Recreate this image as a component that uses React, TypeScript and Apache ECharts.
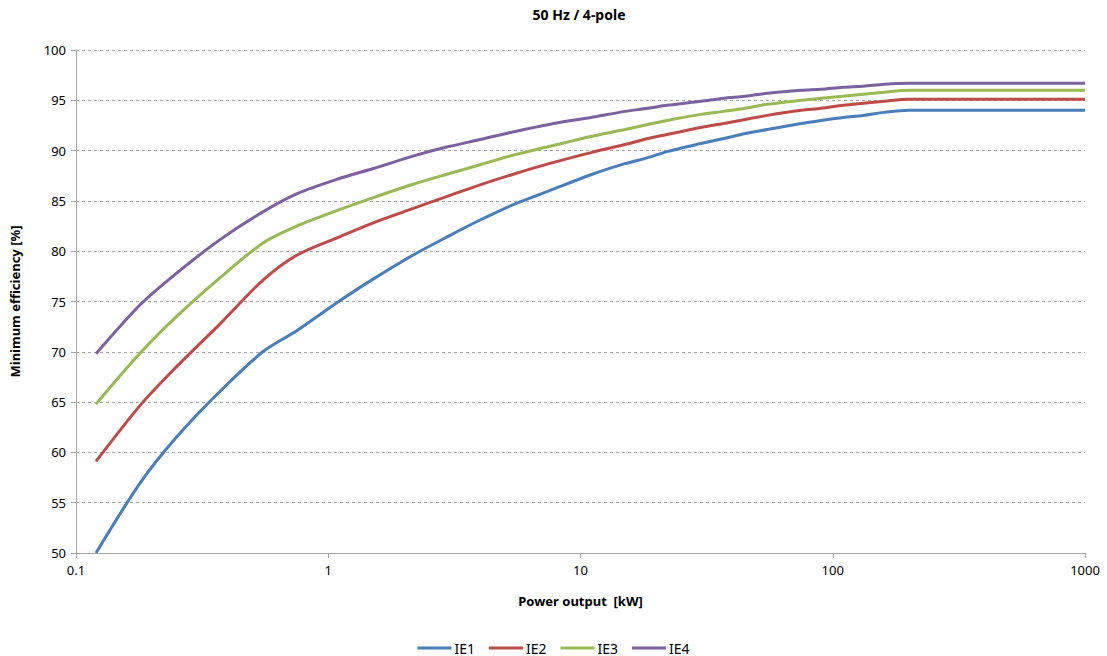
import React, { useEffect, useRef } from "react";
import * as echarts from "echarts";

const powers = [0.12, 0.18, 0.25, 0.37, 0.55, 0.75, 1.1, 1.5, 2.2, 3, 4, 5.5, 7.5, 11, 15, 18.5, 22, 30, 37, 45, 55, 75, 90, 110, 132, 160, 200, 250, 315, 355, 400, 450, 500, 1000];
const ie1 = [50.0, 57.0, 61.5, 66.0, 70.0, 72.1, 75.0, 77.2, 79.7, 81.5, 83.1, 84.7, 86.0, 87.6, 88.7, 89.3, 89.9, 90.7, 91.2, 91.7, 92.1, 92.7, 93.0, 93.3, 93.5, 93.8, 94.0, 94.0, 94.0, 94.0, 94.0, 94.0, 94.0, 94.0];
const ie2 = [59.1, 64.7, 68.5, 72.7, 77.1, 79.6, 81.4, 82.8, 84.3, 85.5, 86.6, 87.7, 88.7, 89.8, 90.6, 91.2, 91.6, 92.3, 92.7, 93.1, 93.5, 94.0, 94.2, 94.5, 94.7, 94.9, 95.1, 95.1, 95.1, 95.1, 95.1, 95.1, 95.1, 95.1];
const ie3 = [64.8, 69.9, 73.5, 77.3, 80.8, 82.5, 84.1, 85.3, 86.7, 87.7, 88.6, 89.6, 90.4, 91.4, 92.1, 92.6, 93.0, 93.6, 93.9, 94.2, 94.6, 95.0, 95.2, 95.4, 95.6, 95.8, 96.0, 96.0, 96.0, 96.0, 96.0, 96.0, 96.0, 96.0];
const ie4 = [69.8, 74.7, 77.8, 81.1, 83.9, 85.7, 87.2, 88.2, 89.5, 90.4, 91.1, 91.9, 92.6, 93.3, 93.9, 94.2, 94.5, 94.9, 95.2, 95.4, 95.7, 96.0, 96.1, 96.3, 96.4, 96.6, 96.7, 96.7, 96.7, 96.7, 96.7, 96.7, 96.7, 96.7];
const seriesNames = ["IE1", "IE2", "IE3", "IE4"];
const seriesValues = [ie1, ie2, ie3, ie4];
const colors = ["#4a7ebb", "#be4b48", "#98b954", "#7d60a0"];

const FONT = "'Noto Sans', 'Liberation Sans', sans-serif";

export default function App() {
  const ref = useRef<HTMLDivElement>(null);
  useEffect(() => {
    document.body.style.margin = "0";
    if (!ref.current) return;
    const chart = echarts.init(ref.current, null, { renderer: "svg" });
    chart.setOption({
      animation: false,
      textStyle: { fontFamily: FONT },
      title: {
        text: "50 Hz / 4-pole",
        left: 579,
        textAlign: "center",
        top: 7,
        padding: 0,
        textStyle: { fontSize: 14, fontWeight: "bold", color: "#000", fontFamily: FONT },
      },
      grid: { left: 73, right: 22, top: 50, bottom: 103, containLabel: false },
      legend: {
        bottom: 1,
        left: "center",
        padding: 0,
        itemWidth: 34,
        itemHeight: 3,
        itemGap: 14,
        icon: "rect",
        textStyle: { fontSize: 14, color: "#000", fontFamily: FONT, padding: [0, 0, 0, -2] },
        data: seriesNames,
      },
      xAxis: {
        type: "log",
        logBase: 10,
        min: 0.1,
        max: 1000,
        name: "Power output  [kW]",
        nameLocation: "middle",
        nameGap: 41,
        nameTextStyle: { fontSize: 13, fontWeight: "bold", color: "#000", fontFamily: FONT },
        axisLine: { show: true, lineStyle: { color: "#a6a6a6", width: 1 } },
        axisTick: { show: true, inside: false, length: 5, lineStyle: { color: "#a6a6a6" } },
        minorTick: { show: false },
        splitLine: { show: false },
        axisLabel: {
          fontSize: 13,
          color: "#000",
          margin: 10,
          formatter: (v: number) => String(v),
        },
      },
      yAxis: {
        type: "value",
        min: 50,
        max: 100,
        interval: 5,
        name: "Minimum efficiency [%]",
        nameLocation: "middle",
        nameGap: 55,
        nameRotate: 90,
        nameTextStyle: { fontSize: 13, fontWeight: "bold", color: "#000", fontFamily: FONT },
        axisLine: { show: true, lineStyle: { color: "#a6a6a6", width: 1 } },
        axisTick: { show: true, inside: false, length: 5, lineStyle: { color: "#a6a6a6" } },
        splitLine: { show: true, lineStyle: { color: "#a6a6a6", type: [3, 3], width: 1 } },
        axisLabel: { fontSize: 13, color: "#000", margin: 10 },
      },
      series: seriesNames.map((name, i) => ({
        name,
        type: "line",
        data: powers.map((p, j) => [p, seriesValues[i][j]]),
        showSymbol: false,
        symbol: "none",
        smooth: 0.3,
        lineStyle: { color: colors[i], width: 3 },
        itemStyle: { color: colors[i] },
      })),
    });
    return () => chart.dispose();
  }, []);
  return <div ref={ref} style={{ width: 1107, height: 656 }} />;
}
